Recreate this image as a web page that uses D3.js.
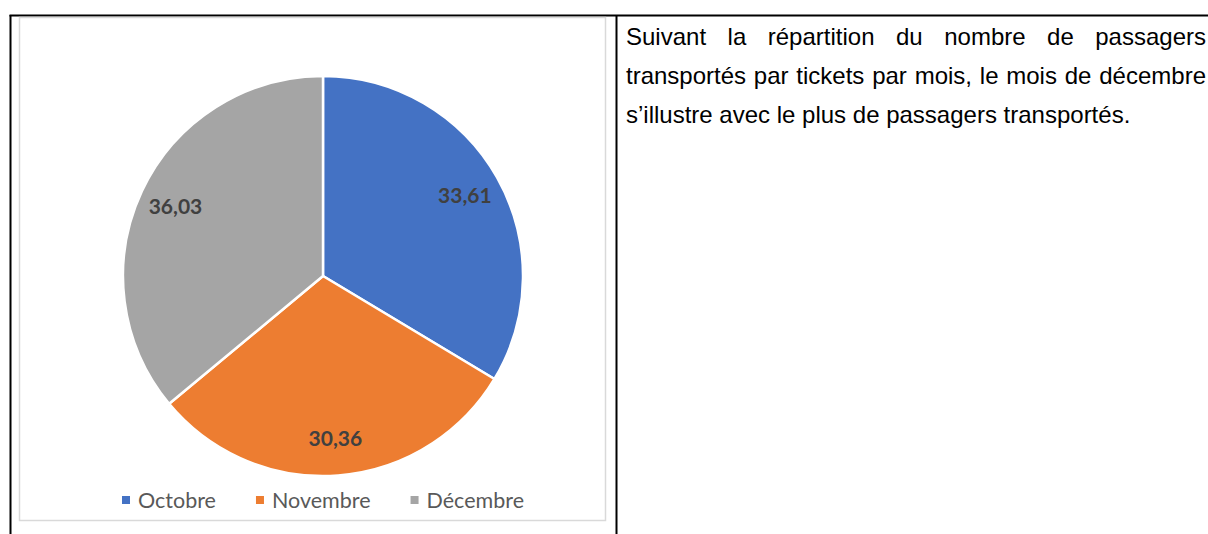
<!DOCTYPE html>
<html>
<head>
<meta charset="utf-8">
<script src="https://cdn.jsdelivr.net/npm/d3@7"></script>
<style>
  body { margin: 0; background: #fff; }
  svg { display: block; }
</style>
</head>
<body>
<svg id="vis"></svg>
<script>
const WIDTH = 1208;
const HEIGHT = 534;
const months = ["Octobre", "Novembre", "Décembre"];
const shares = [33.61, 30.36, 36.03];
const sliceColors = ["#4472C4", "#ED7D31", "#A5A5A5"];
const paragraphLines = [
    "Suivant la répartition du nombre de passagers",
    "transportés par tickets par mois, le mois de décembre",
    "s’illustre avec le plus de passagers transportés."
];

const frLocale = d3.formatLocale({decimal: ",", thousands: " ", grouping: [3], currency: ["", " €"]});
const fmt = frLocale.format(".2f");

const svg = d3.select("#vis")
    .attr("width", WIDTH)
    .attr("height", HEIGHT);

// table borders (document page)
svg.append("line").attr("x1", 9.5).attr("x2", WIDTH).attr("y1", 15.5).attr("y2", 15.5)
    .attr("stroke", "#000").attr("stroke-width", 2);
svg.append("line").attr("x1", 10.5).attr("x2", 10.5).attr("y1", 15).attr("y2", HEIGHT)
    .attr("stroke", "#000").attr("stroke-width", 2);
svg.append("line").attr("x1", 616.5).attr("x2", 616.5).attr("y1", 15).attr("y2", HEIGHT)
    .attr("stroke", "#000").attr("stroke-width", 2);

// chart frame
svg.append("rect")
    .attr("x", 19.5).attr("y", 17.5)
    .attr("width", 586).attr("height", 503)
    .attr("fill", "#fff")
    .attr("stroke", "#D9D9D9")
    .attr("stroke-width", 1.5);

const cx = 323, cy = 276, radius = 200;
const g = svg.append("g").attr("transform", `translate(${cx},${cy})`);

const pie = d3.pie().sort(null).value(d => d);
const arcs = pie(shares);
const arc = d3.arc().innerRadius(0).outerRadius(radius);
const labelArc = d3.arc().innerRadius(radius * 0.815).outerRadius(radius * 0.815);

g.selectAll(".slice").data(arcs).join("path")
    .attr("class", "slice")
    .attr("d", arc)
    .attr("fill", (d, i) => sliceColors[i])
    .attr("stroke", "#fff")
    .attr("stroke-width", 2.5)
    .attr("stroke-linejoin", "round");

g.selectAll(".label").data(arcs).join("text")
    .attr("class", "label")
    .attr("transform", d => `translate(${labelArc.centroid(d)})`)
    .attr("text-anchor", "middle")
    .attr("dy", "0.36em")
    .attr("font-family", "Lato, 'Open Sans', sans-serif")
    .attr("font-weight", "bold")
    .attr("font-size", 21)
    .attr("fill", "#404040")
    .text(d => fmt(d.data));

// legend, centered under the pie
const legend = svg.append("g").attr("class", "legend");
const items = legend.selectAll(".item").data(months).join("g").attr("class", "item");
items.append("rect")
    .attr("width", 8).attr("height", 8)
    .attr("y", -4)
    .attr("fill", (d, i) => sliceColors[i]);
items.append("text")
    .attr("x", 16)
    .attr("dy", "0.35em")
    .attr("font-family", "Lato, 'Open Sans', sans-serif")
    .attr("font-size", 21.5)
    .attr("fill", "#595959")
    .text(d => d);
let offset = 0;
const widths = [];
items.each(function() {
    widths.push(16 + d3.select(this).select("text").node().getComputedTextLength());
});
const gap = 40;
const total = d3.sum(widths) + gap * (widths.length - 1);
items.attr("transform", (d, i) => {
    const x = offset;
    offset += widths[i] + gap;
    return `translate(${x},0)`;
});
legend.attr("transform", `translate(${cx - total / 2},500)`);

// paragraph in the right cell, first lines justified
const textLeft = 626, textRight = 1206;
const fontSize = 24;
const para = svg.append("g")
    .attr("font-family", "'Liberation Sans', Arial, sans-serif")
    .attr("font-size", fontSize)
    .attr("fill", "#000");
paragraphLines.forEach((line, li) => {
    const y = 45 + li * 39;
    const words = line.split(" ");
    const justify = li < paragraphLines.length - 1;
    const nodes = words.map(w => para.append("text").attr("y", y).text(w));
    const wWidths = nodes.map(n => n.node().getComputedTextLength());
    const space = justify
        ? (textRight - textLeft - d3.sum(wWidths)) / (words.length - 1)
        : fontSize * 0.278;
    let x = textLeft;
    nodes.forEach((n, i) => {
        n.attr("x", x);
        x += wWidths[i] + space;
    });
});
</script>
</body>
</html>
